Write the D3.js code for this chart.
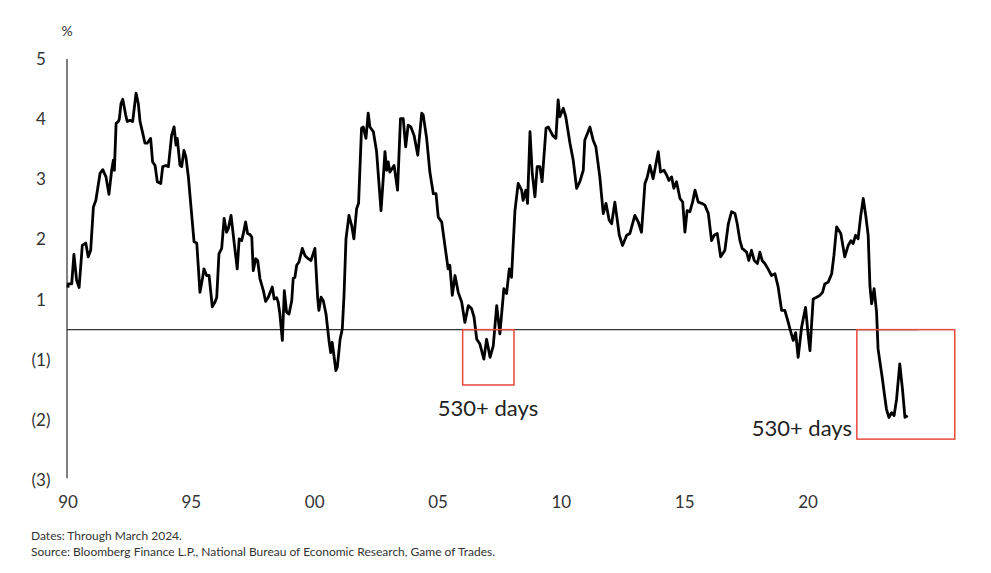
<!DOCTYPE html>
<html>
<head>
<meta charset="utf-8">
<script src="https://cdn.jsdelivr.net/npm/d3@7"></script>
<style>
  body { margin: 0; background: #fff; }
  text { font-family: Lato, "Noto Sans", sans-serif; }
</style>
</head>
<body>
<div id="chart"></div>
<script>
// spread (decimal year, %)
var years = [
  1990.00, 1990.01, 1990.15, 1990.24, 1990.35, 1990.45, 1990.58, 1990.72, 1990.82, 1990.92,
  1991.03, 1991.13, 1991.30, 1991.41, 1991.54, 1991.66, 1991.77, 1991.84, 1991.88, 1991.95,
  1992.04, 1992.08, 1992.15, 1992.22, 1992.34, 1992.40, 1992.51, 1992.62, 1992.76, 1992.85,
  1992.92, 1993.05, 1993.12, 1993.21, 1993.35, 1993.43, 1993.53, 1993.62, 1993.76, 1993.84,
  1993.97, 1994.07, 1994.20, 1994.30, 1994.38, 1994.43, 1994.54, 1994.61, 1994.70, 1994.78,
  1994.88, 1995.01, 1995.11, 1995.22, 1995.35, 1995.46, 1995.51, 1995.62, 1995.72, 1995.85,
  1995.96, 1996.03, 1996.12, 1996.23, 1996.33, 1996.43, 1996.50, 1996.61, 1996.74, 1996.86,
  1996.94, 1997.04, 1997.11, 1997.20, 1997.28, 1997.38, 1997.45, 1997.51, 1997.61, 1997.69,
  1997.78, 1997.92, 1998.01, 1998.12, 1998.28, 1998.36, 1998.46, 1998.52, 1998.59, 1998.69,
  1998.77, 1998.86, 1998.96, 1999.07, 1999.13, 1999.20, 1999.27, 1999.36, 1999.50, 1999.61,
  1999.74, 1999.85, 2000.01, 2000.12, 2000.17, 2000.26, 2000.35, 2000.46, 2000.58, 2000.65,
  2000.71, 2000.86, 2000.92, 2001.03, 2001.12, 2001.19, 2001.27, 2001.39, 2001.50, 2001.59,
  2001.70, 2001.78, 2001.90, 2001.97, 2002.08, 2002.17, 2002.24, 2002.38, 2002.51, 2002.69,
  2002.78, 2002.85, 2002.92, 2002.98, 2003.05, 2003.14, 2003.22, 2003.36, 2003.48, 2003.59,
  2003.69, 2003.79, 2003.90, 2004.03, 2004.18, 2004.34, 2004.40, 2004.54, 2004.67, 2004.81,
  2004.92, 2005.01, 2005.15, 2005.28, 2005.41, 2005.48, 2005.58, 2005.69, 2005.82, 2005.96,
  2006.09, 2006.23, 2006.36, 2006.46, 2006.57, 2006.70, 2006.86, 2006.97, 2007.11, 2007.24,
  2007.38, 2007.51, 2007.67, 2007.78, 2007.89, 2007.98, 2008.12, 2008.25, 2008.39, 2008.45,
  2008.56, 2008.63, 2008.73, 2008.82, 2008.93, 2009.02, 2009.13, 2009.22, 2009.38, 2009.47,
  2009.65, 2009.78, 2009.87, 2009.94, 2010.08, 2010.18, 2010.35, 2010.48, 2010.62, 2010.75,
  2010.89, 2010.95, 2011.16, 2011.29, 2011.40, 2011.56, 2011.70, 2011.81, 2011.94, 2012.04,
  2012.17, 2012.35, 2012.48, 2012.65, 2012.78, 2012.98, 2013.12, 2013.25, 2013.39, 2013.48,
  2013.59, 2013.72, 2013.93, 2014.02, 2014.16, 2014.27, 2014.36, 2014.47, 2014.56, 2014.67,
  2014.81, 2014.92, 2015.01, 2015.10, 2015.21, 2015.32, 2015.42, 2015.55, 2015.69, 2015.82,
  2015.96, 2016.09, 2016.20, 2016.32, 2016.46, 2016.63, 2016.77, 2016.90, 2017.04, 2017.13,
  2017.24, 2017.33, 2017.51, 2017.60, 2017.71, 2017.82, 2017.95, 2018.05, 2018.14, 2018.25,
  2018.38, 2018.52, 2018.66, 2018.79, 2018.93, 2019.06, 2019.20, 2019.27, 2019.40, 2019.50,
  2019.60, 2019.74, 2019.90, 2020.01, 2020.08, 2020.21, 2020.35, 2020.48, 2020.59, 2020.68,
  2020.82, 2020.96, 2021.05, 2021.16, 2021.33, 2021.49, 2021.63, 2021.74, 2021.83, 2021.93,
  2022.03, 2022.14, 2022.24, 2022.34, 2022.44, 2022.51, 2022.58, 2022.68, 2022.78, 2022.84,
  2022.91, 2023.01, 2023.09, 2023.18, 2023.28, 2023.39, 2023.49, 2023.59, 2023.72, 2023.83,
  2023.93, 2024.04
];
var spread = [
  0.70, 0.76, 0.76, 1.25, 0.82, 0.70, 1.40, 1.44, 1.21, 1.32,
  2.04, 2.15, 2.60, 2.66, 2.54, 2.25, 2.65, 2.82, 2.65, 3.43,
  3.46, 3.50, 3.76, 3.83, 3.57, 3.46, 3.48, 3.46, 3.93, 3.76,
  3.46, 3.23, 3.10, 3.10, 3.18, 2.79, 2.73, 2.46, 2.43, 2.71,
  2.73, 2.71, 3.23, 3.37, 3.07, 3.18, 2.73, 2.71, 2.98, 2.87,
  2.54, 1.93, 1.46, 1.44, 0.62, 0.87, 1.01, 0.90, 0.90, 0.38,
  0.46, 0.54, 1.26, 1.35, 1.85, 1.62, 1.68, 1.90, 1.43, 1.01,
  1.51, 1.48, 1.60, 1.79, 1.60, 1.58, 1.54, 0.98, 1.18, 1.15,
  0.85, 0.65, 0.47, 0.54, 0.71, 0.51, 0.53, 0.46, 0.26, -0.18,
  0.65, 0.29, 0.26, 0.48, 0.85, 0.87, 1.07, 1.12, 1.35, 1.23,
  1.18, 1.15, 1.35, 0.54, 0.32, 0.54, 0.48, 0.26, -0.18, -0.38,
  -0.21, -0.68, -0.62, -0.16, 0.01, 0.57, 1.51, 1.90, 1.73, 1.51,
  2.01, 2.10, 3.35, 3.37, 3.18, 3.60, 3.37, 3.29, 2.96, 1.98,
  2.51, 2.96, 2.65, 2.79, 2.62, 2.68, 2.73, 2.32, 3.51, 3.51,
  3.04, 3.40, 3.37, 3.23, 2.90, 3.60, 3.57, 3.18, 2.62, 2.26,
  2.26, 1.87, 1.79, 1.40, 1.01, 1.07, 0.57, 0.90, 0.62, 0.46,
  0.12, 0.40, 0.35, 0.21, -0.16, -0.24, -0.49, -0.16, -0.46, -0.27,
  0.40, -0.07, 0.68, 0.60, 1.01, 0.87, 1.98, 2.43, 2.32, 2.15,
  2.32, 2.10, 3.29, 2.60, 2.21, 2.71, 2.71, 2.46, 3.35, 3.37,
  3.23, 3.18, 3.82, 3.54, 3.68, 3.54, 3.10, 2.82, 2.35, 2.46,
  2.65, 3.15, 3.37, 3.15, 3.04, 2.54, 1.93, 2.10, 1.82, 1.76,
  2.12, 1.57, 1.40, 1.57, 1.60, 1.90, 1.79, 1.62, 2.43, 2.53,
  2.73, 2.51, 2.96, 2.62, 2.65, 2.57, 2.48, 2.54, 2.35, 2.46,
  2.18, 2.12, 1.62, 1.98, 1.96, 2.12, 2.32, 2.12, 2.10, 2.07,
  1.93, 1.48, 1.57, 1.60, 1.21, 1.32, 1.76, 1.96, 1.93, 1.76,
  1.48, 1.35, 1.29, 1.15, 1.32, 1.15, 1.10, 1.29, 1.15, 1.10,
  1.01, 0.90, 0.93, 0.71, 0.32, 0.32, 0.12, 0.01, -0.18, -0.05,
  -0.46, 0.04, 0.37, -0.10, -0.35, 0.51, 0.54, 0.57, 0.62, 0.76,
  0.79, 0.93, 1.23, 1.71, 1.60, 1.21, 1.40, 1.48, 1.43, 1.57,
  1.51, 1.90, 2.18, 1.90, 1.57, 0.73, 0.43, 0.68, 0.29, -0.32,
  -0.52, -0.80, -1.05, -1.32, -1.46, -1.38, -1.43, -1.16, -0.57, -0.99,
  -1.46, -1.43
];

// axis ticks, labels as printed on the chart (no zero label)
var xTicks = [1990, 1995, 2000, 2005, 2010, 2015, 2020];
var xTickLabels = ["90", "95", "00", "05", "10", "15", "20"];
var yTicks = [4.5, 3.5, 2.5, 1.5, 0.5, -0.5, -1.5, -2.5];
var yTickLabels = ["5", "4", "3", "2", "1", "(1)", "(2)", "(3)"];

// highlighted inversion periods
var boxStart = [2006.0, 2021.98];
var boxEnd = [2008.08, 2025.95];
var boxLow = [-0.92, -1.82];
var boxText = ["530+ days", "530+ days"];

function init() {
  var w = 991;
  var h = 573;

  var x = d3.scaleLinear().domain([1990, 2020]).range([68, 808]);
  var y = d3.scaleLinear().domain([-2.5, 4.5]).range([480, 59]);

  var svg = d3.select("#chart")
      .append("svg")
      .attr("width", w)
      .attr("height", h);

  // y axis line
  svg.append("line")
      .attr("x1", x(1990) - 1).attr("x2", x(1990) - 1)
      .attr("y1", y(4.5)).attr("y2", y(-2.47))
      .attr("stroke", "#555")
      .attr("stroke-width", 1.5);

  // zero line
  svg.append("line")
      .attr("x1", x(1990) - 1).attr("x2", x(2024.45))
      .attr("y1", y(0)).attr("y2", y(0))
      .attr("stroke", "#333")
      .attr("stroke-width", 1.2);

  svg.selectAll("text.ytick")
      .data(yTicks)
      .enter()
      .append("text")
      .attr("class", "ytick")
      .attr("x", 41)
      .attr("y", function(d) { return y(d); })
      .attr("dy", "0.35em")
      .attr("text-anchor", "middle")
      .style("font-size", "17px")
      .style("fill", "#333")
      .text(function(d, i) { return yTickLabels[i]; });

  svg.append("text")
      .attr("x", 67).attr("y", 36)
      .attr("text-anchor", "middle")
      .style("font-size", "14px")
      .style("fill", "#333")
      .text("%");

  svg.selectAll("text.xtick")
      .data(xTicks)
      .enter()
      .append("text")
      .attr("class", "xtick")
      .attr("x", function(d) { return x(d); })
      .attr("y", 502)
      .attr("dy", "0.35em")
      .attr("text-anchor", "middle")
      .style("font-size", "17px")
      .style("fill", "#333")
      .text(function(d, i) { return xTickLabels[i]; });

  var pts = years.map(function(d, i) { return [d, spread[i]]; });

  var line = d3.line()
      .x(function(d) { return x(d[0]); })
      .y(function(d) { return y(d[1]); });

  svg.append("path")
      .datum(pts)
      .attr("d", line)
      .attr("fill", "none")
      .attr("stroke", "#000")
      .attr("stroke-width", 2.8)
      .attr("stroke-linejoin", "round");

  // red boxes
  svg.selectAll("rect.box")
      .data(boxStart)
      .enter()
      .append("rect")
      .attr("class", "box")
      .attr("x", function(d) { return x(d); })
      .attr("y", y(0))
      .attr("width", function(d, i) { return x(boxEnd[i]) - x(d); })
      .attr("height", function(d, i) { return y(boxLow[i]) - y(0); })
      .attr("fill", "none")
      .attr("stroke", "#e8493a")
      .attr("stroke-width", 1.5);

  svg.append("text")
      .attr("x", 488).attr("y", y(-1.43))
      .attr("text-anchor", "middle")
      .style("font-size", "22px")
      .style("fill", "#222")
      .text(boxText[0]);

  svg.append("text")
      .attr("x", 852).attr("y", y(-1.77))
      .attr("text-anchor", "end")
      .style("font-size", "22px")
      .style("fill", "#222")
      .text(boxText[1]);

  svg.append("text")
      .attr("x", 31).attr("y", 540)
      .style("font-size", "12px")
      .style("fill", "#333")
      .text("Dates: Through March 2024.");

  svg.append("text")
      .attr("x", 31).attr("y", 556)
      .style("font-size", "12px")
      .style("fill", "#333")
      .text("Source: Bloomberg Finance L.P., National Bureau of Economic Research, Game of Trades.");
}

window.onload = init;
</script>
</body>
</html>
